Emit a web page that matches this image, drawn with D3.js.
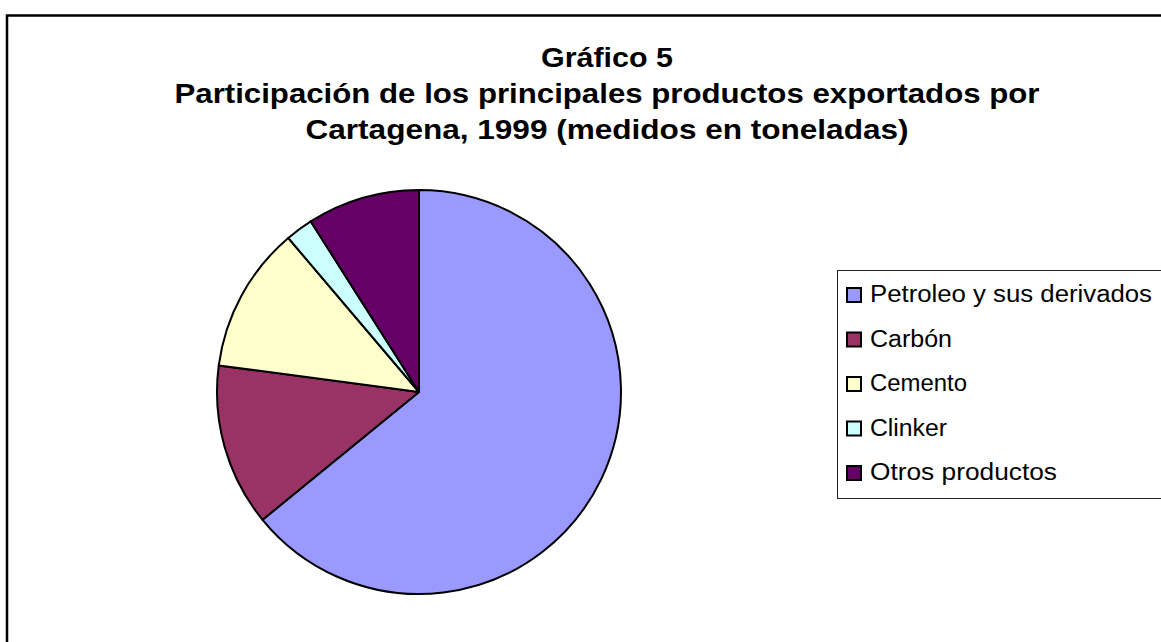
<!DOCTYPE html>
<html><head><meta charset="utf-8">
<script src="https://cdn.jsdelivr.net/npm/d3@7"></script>
<style>html,body{margin:0;padding:0;background:#fff;overflow:hidden}</style>
</head><body>
<svg id="c" width="1161" height="642"></svg>
<script>
const categories = ["Petroleo y sus derivados", "Carbón", "Cemento", "Clinker", "Otros productos"];
const values = [64.1, 13.0, 11.7, 2.2, 9.0];
const colors = ["#9999FF", "#993366", "#FFFFCC", "#CCFFFF", "#660066"];
const titleLines = ["Gráfico 5", "Participación de los principales productos exportados por", "Cartagena, 1999 (medidos en toneladas)"];
const titleWidths = [132, 865, 603];
const legendWidths = [282, 82, 97, 77, 187];

const svg = d3.select("#c");
const font = "Arial, 'Liberation Sans', sans-serif";

// outer frame
svg.append("rect").attr("x", 7).attr("y", 15.5).attr("width", 1170).attr("height", 650)
  .attr("fill", "#fff").attr("stroke", "#000").attr("stroke-width", 2.5);

// title
svg.selectAll("text.title").data(titleLines).join("text")
  .attr("class", "title")
  .attr("x", (d,i) => 607 - titleWidths[i]/2)
  .attr("y", (d,i) => 66.5 + i*36)
  .attr("font-family", font).attr("font-weight", "bold").attr("font-size", 28)
  .attr("textLength", (d,i) => titleWidths[i]).attr("lengthAdjust", "spacingAndGlyphs")
  .text(d => d);

// pie
const cx = 419, cy = 392, r = 202;
const pie = d3.pie().sort(null).value(d => d.v);
const arc = d3.arc().innerRadius(0).outerRadius(r);
const data = categories.map((c,i) => ({c, v: values[i], col: colors[i]}));
svg.append("g").attr("transform", `translate(${cx},${cy})`)
  .selectAll("path").data(pie(data)).join("path")
  .attr("d", arc).attr("fill", d => d.data.col)
  .attr("stroke", "#000").attr("stroke-width", 2).attr("stroke-linejoin", "round");

// legend
const lg = svg.append("g");
lg.append("rect").attr("x", 837.5).attr("y", 270.5).attr("width", 340).attr("height", 228)
  .attr("fill", "#fff").attr("stroke", "#222").attr("stroke-width", 1);
const ly = d3.scalePoint().domain(categories).range([302, 480]);
const items = lg.selectAll("g.it").data(data).join("g").attr("class", "it");
items.append("rect").attr("x", 847).attr("y", d => ly(d.c) - 14).attr("width", 14).attr("height", 14)
  .attr("fill", d => d.col).attr("stroke", "#000").attr("stroke-width", 2);
items.append("text").attr("x", 870).attr("y", d => ly(d.c))
  .attr("font-family", font).attr("font-size", 23)
  .attr("textLength", (d,i) => legendWidths[i]).attr("lengthAdjust", "spacingAndGlyphs")
  .text(d => d.c);
</script>
</body></html>
